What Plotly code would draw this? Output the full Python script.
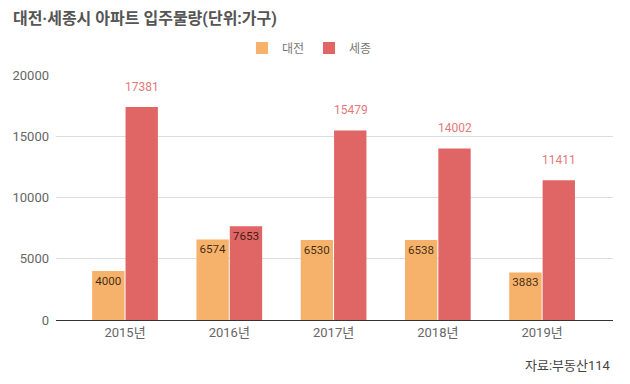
import plotly.graph_objects as go

years = ["2015년", "2016년", "2017년", "2018년", "2019년"]
daejeon = [4000, 6574, 6530, 6538, 3883]
sejong = [17381, 7653, 15479, 14002, 11411]
sejong_outside = [True, False, True, True, True]

ORANGE = "#F6B26B"
RED = "#E06666"
LABEL_RED = "#E27A7A"
INSIDE_TEXT = "rgba(20,10,0,0.82)"
FONT = "Roboto, Noto Sans CJK KR, sans-serif"

# page body has an 8px default margin; size the figure so it fits the 630x384 window
W, H = 614, 368

fig = go.Figure()
fig.add_bar(
    x=years, y=daejeon, name="대전", marker=dict(color=ORANGE, line=dict(width=0)),
    text=[str(v) for v in daejeon], textposition="inside", insidetextanchor="end", textangle=0,
    textfont=dict(color=INSIDE_TEXT, size=12, family=FONT), cliponaxis=False,
)
fig.add_bar(
    x=years, y=sejong, name="세종", marker=dict(color=RED, line=dict(width=0)),
    text=["" if o else str(v) for v, o in zip(sejong, sejong_outside)],
    textposition="inside", insidetextanchor="end", textangle=0,
    textfont=dict(color=INSIDE_TEXT, size=12, family=FONT), cliponaxis=False,
)
for yr, v, o in zip(years, sejong, sejong_outside):
    if o:
        fig.add_annotation(x=yr, y=v, text=str(v), showarrow=False, xshift=17, yshift=20,
                           font=dict(color=LABEL_RED, size=12, family=FONT))

fig.add_annotation(xref="paper", yref="paper", x=1.0, y=-0.184, xanchor="right", yanchor="middle",
                   text="자료:부동산114", showarrow=False, font=dict(color="#444444", size=13, family=FONT))

fig.update_layout(
    width=W, height=H,
    margin=dict(l=48, r=9, t=67, b=56, autoexpand=False),
    paper_bgcolor="white", plot_bgcolor="white",
    barmode="group", bargap=0.36, bargroupgap=0.03,
    title=dict(text="<b>대전·세종시 아파트 입주물량(단위:가구)</b>", x=0.008, xanchor="left",
               y=0.973, yanchor="middle", font=dict(size=16, color="#555555", family=FONT)),
    legend=dict(orientation="h", x=0.455, xanchor="center", y=1.11, yanchor="middle",
                font=dict(size=12, color="#777777", family=FONT)),
    font=dict(family=FONT),
    xaxis=dict(range=[-0.662, 4.68], showline=True, linecolor="#333333", linewidth=1,
               tickfont=dict(size=13, color="#666666"), ticks="", showgrid=False, automargin=False),
    yaxis=dict(range=[0, 20000], dtick=5000, tickformat="d", showgrid=True, gridcolor="#dddddd",
               zeroline=False, tickfont=dict(size=13, color="#666666"), ticks="",
               ticklabelstandoff=6, automargin=False),
)
fig.write_html("out.html")
